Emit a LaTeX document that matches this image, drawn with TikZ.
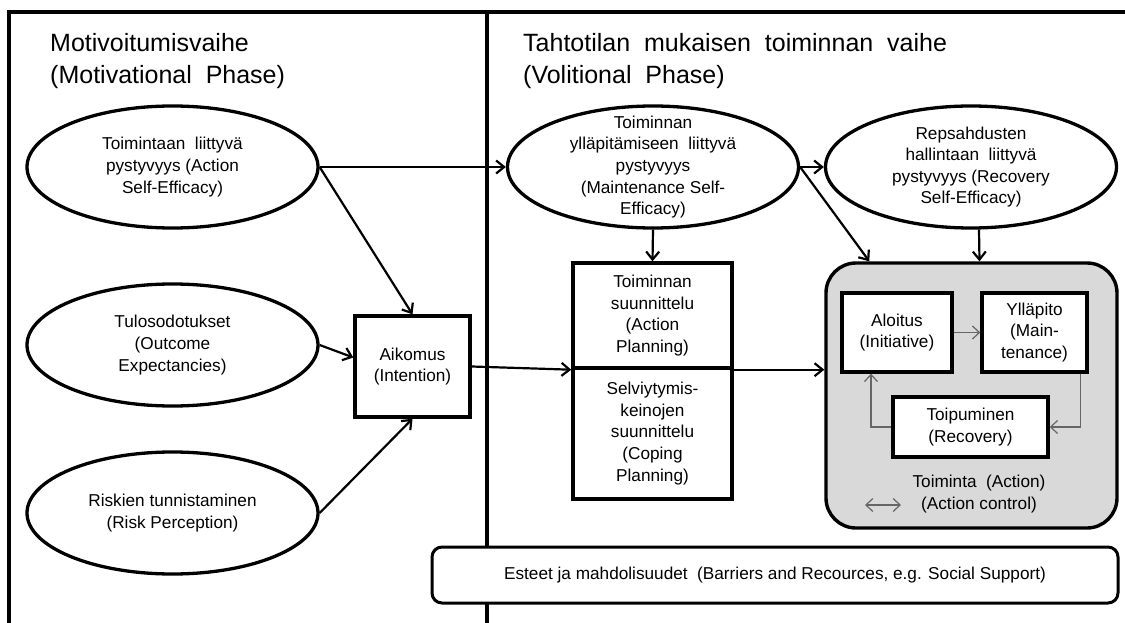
\documentclass[tikz,border=0pt]{standalone}
\usepackage{fontspec}
\setmainfont{Liberation Sans}
\usepackage{tikz}
\usetikzlibrary{positioning,arrows.meta,shapes.geometric}

\begin{document}
\begin{tikzpicture}[
  x=1pt, y=-1pt,
  title/.style={font=\fontsize{25}{32}\selectfont, align=left, inner sep=0pt, anchor=west},
  factor/.style={draw, ellipse, line width=3.3pt, fill=white, align=center,
                 font=\fontsize{17.2}{21.6}\selectfont, inner xsep=0pt, inner ysep=-12pt,
                 minimum width=291pt, minimum height=122pt},
  plan/.style={draw, line width=3.4pt, fill=white, align=center, inner sep=0pt,
               font=\fontsize{17.2}{21.8}\selectfont, minimum width=159pt},
  stage/.style={draw, line width=3.4pt, fill=white, align=center, inner sep=0pt,
                font=\fontsize{17.2}{21.8}\selectfont},
  arr/.style={-{Straight Barb[length=8pt,width=13pt,line width=2.2pt]}, line width=2.2pt},
  thin/.style={-{Straight Barb[length=7pt,width=13pt]}, line width=1.2pt, draw=black!60},
]
\useasboundingbox (0,0) rectangle (1125,623);

%% ── FRAME ───────────────────────────────────────────────────────────────────
\draw[line width=4pt] (8.5,623) -- (8.5,12) -- (1125,12);
\draw[line width=4pt] (487,12) -- (487,623);

%% ── PHASE TITLES ────────────────────────────────────────────────────────────
\node[title] (motT) at (50,61) {Motivoitumisvaihe\\(Motivational\ \ Phase)};
\node[title] (volT) at (523,61) {Tahtotilan\ \ mukaisen\ \ toiminnan\ \ vaihe\\(Volitional\ \ Phase)};

%% ── MOTIVATIONAL PHASE ──────────────────────────────────────────────────────
\node[factor] (asef) at (172.5,167) {Toimintaan\ \ liittyvä\\pystyvyys (Action\\Self-Efficacy)};
\node[factor] (outc) at (172.5,345) {Tulosodotukset\\(Outcome\\Expectancies)};
\node[factor] (risk) at (172.5,513) {Riskien tunnistaminen\\(Risk Perception)};
\node[stage, minimum width=115pt, minimum height=101pt] (aik) at (412.5,366.5) {Aikomus\\(Intention)};

%% ── VOLITIONAL PHASE ────────────────────────────────────────────────────────
\node[factor] (msef) at (653,167) {Toiminnan\\ylläpitämiseen\ \ liittyvä\\pystyvyys\\(Maintenance Self-\\Efficacy)};
\node[factor] (rsef) at (971,167) {Repsahdusten\\hallintaan\ \ liittyvä\\pystyvyys (Recovery\\Self-Efficacy)};
\node[plan, minimum height=105pt] (aplan) at (652.5,315.5) {Toiminnan\\suunnittelu\\(Action\\Planning)};
\node[plan, minimum height=131pt] (cplan) at (652.5,433.5) {Selviytymis-\\keinojen\\suunnittelu\\(Coping\\Planning)};

%% ── ACTION ──────────────────────────────────────────────────────────────────
\node[draw, line width=3.4pt, fill=black!15, rounded corners=30pt, inner sep=0pt,
      minimum width=291pt, minimum height=265pt] (act) at (971.5,395.5) {};
\node[stage, minimum width=110pt, minimum height=79pt] (alo) at (897,332.5) {Aloitus\\(Initiative)};
\node[stage, minimum width=105pt, minimum height=79pt] (yll) at (1034.5,332.5) {Ylläpito\\(Main-\\tenance)};
\node[stage, minimum width=155pt, minimum height=60pt] (toi) at (970.5,427) {Toipuminen\\(Recovery)};
\node[align=center, inner sep=0pt, font=\fontsize{17.2}{21.8}\selectfont] (actT) at (979,494)
  {Toiminta\ \ (Action)\\(Action control)};
\coordinate (ctlL) at (865,505);
\coordinate (ctlR) at (901,505);

%% ── BARRIERS ────────────────────────────────────────────────────────────────
\node[draw, line width=3pt, fill=white, rounded corners=10pt, inner sep=0pt,
      minimum width=686pt, minimum height=56pt, font=\fontsize{17.2}{21}\selectfont] (bar) at (775,575)
  {Esteet ja mahdolisuudet\ \ (Barriers and Recources, e.g. Social Support)};

%% ── ARROWS ──────────────────────────────────────────────────────────────────
\draw[arr] (asef.east) -- (msef.west);
\draw[arr] (asef.east) -- (aik.north);
\draw[arr] (outc.east) -- ([yshift=9pt]aik.west);
\draw[arr] (risk.east) -- (aik.south);
\draw[arr] (aik.east) -- (aplan.south west);
\draw[arr] (aplan.south east) -- (aplan.south east -| act.west);
\draw[arr] (msef.east) -- (rsef.west);
\draw[arr] (msef.east) -- ([xshift=45pt]act.north west);
\draw[arr] (msef.south) -- (aplan.north);
\draw[arr] ([xshift=8pt]rsef.south) -- ([xshift=8pt]act.north);

%% ── ACTION CONTROL (thin) ───────────────────────────────────────────────────
\draw[thin] (alo.east) -- (yll.west);
\draw[thin] ([xshift=-8pt]yll.south east) |- (toi.east);
\draw[thin] (toi.west) -| ([xshift=-26pt]alo.south);
\draw[thin, {Straight Barb[length=7pt,width=13pt]}-{Straight Barb[length=7pt,width=13pt]}] (ctlL) -- (ctlR);
\end{tikzpicture}
\end{document}
